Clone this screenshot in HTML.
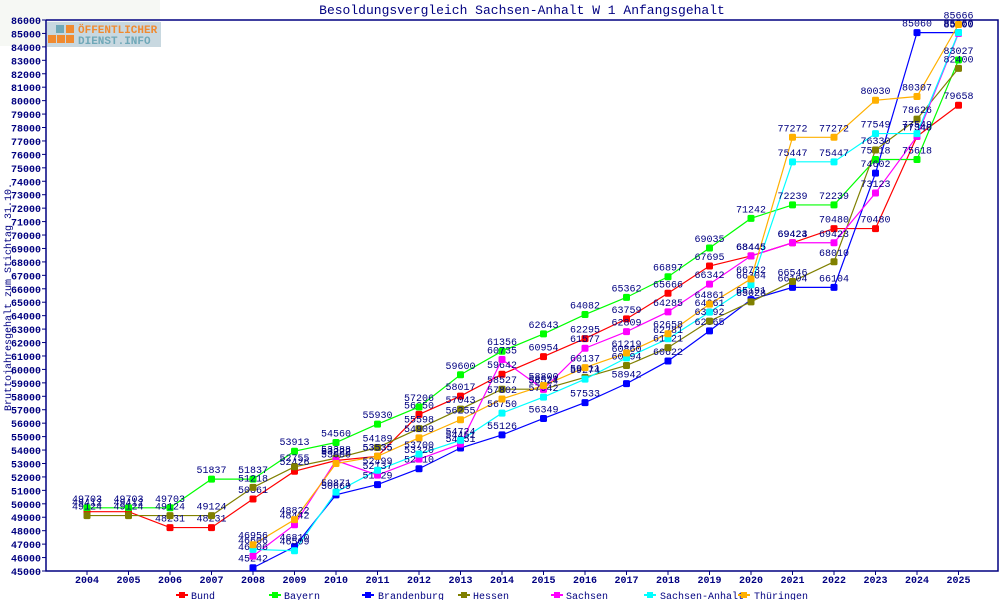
<!DOCTYPE html>
<html><head><meta charset="utf-8"><style>
html,body{margin:0;padding:0;background:#fff;width:1000px;height:600px;overflow:hidden}
svg text{font-family:"Liberation Mono",monospace;fill:#000080}
</style></head><body>
<svg id="s" width="1000" height="600" xmlns="http://www.w3.org/2000/svg">
<rect x="0" y="0" width="1000" height="600" fill="#fff"/>
<rect x="0" y="0" width="160" height="46" fill="#f6f8f4"/>
<rect x="47" y="22" width="114" height="25" fill="#c8d8e0"/>
<rect x="56" y="25" width="8" height="8" fill="#6fa8b8"/>
<rect x="66" y="25" width="8" height="8" fill="#f08a30"/>
<rect x="48" y="35" width="8" height="8" fill="#f08a30"/>
<rect x="57" y="35" width="8" height="8" fill="#f08a30"/>
<rect x="66" y="35" width="8" height="8" fill="#f08a30"/>
<text x="78" y="33" font-size="11" font-weight="bold" style="fill:#f08a30">ÖFFENTLICHER</text>
<text x="78" y="44" font-size="11" font-weight="bold" style="fill:#6fa8b8">DIENST.INFO</text>
<text x="522" y="14" font-size="13" text-anchor="middle">Besoldungsvergleich Sachsen-Anhalt W 1 Anfangsgehalt</text>
<text transform="translate(11,297) rotate(-90)" font-size="10" text-anchor="middle">Bruttojahresgehalt zum Stichtag 31.10.</text>
<g id="ax" stroke="#000080" stroke-width="1.5" fill="none">
<polyline points="46,20 998,20 998,571 46,571 46,20"/>
</g>
<g id="yt"></g><g id="xt"></g><g id="ser"></g>
<g font-size="10">
<line x1="176" y1="595" x2="188" y2="595" stroke="#f00" stroke-width="2"/><rect x="179" y="592" width="6" height="6" fill="#f00"/><text x="191" y="599">Bund</text>
<line x1="269" y1="595" x2="281" y2="595" stroke="#0f0" stroke-width="2"/><rect x="272" y="592" width="6" height="6" fill="#0f0"/><text x="284" y="599">Bayern</text>
<line x1="362" y1="595" x2="374" y2="595" stroke="#00f" stroke-width="2"/><rect x="365" y="592" width="6" height="6" fill="#00f"/><text x="378" y="599">Brandenburg</text>
<line x1="458" y1="595" x2="470" y2="595" stroke="#808000" stroke-width="2"/><rect x="461" y="592" width="6" height="6" fill="#808000"/><text x="473" y="599">Hessen</text>
<line x1="551" y1="595" x2="563" y2="595" stroke="#f0f" stroke-width="2"/><rect x="554" y="592" width="6" height="6" fill="#f0f"/><text x="566" y="599">Sachsen</text>
<line x1="644" y1="595" x2="656" y2="595" stroke="#0ff" stroke-width="2"/><rect x="647" y="592" width="6" height="6" fill="#0ff"/><text x="660" y="599">Sachsen-Anhalt</text>
<line x1="738" y1="595" x2="750" y2="595" stroke="#ffb000" stroke-width="2"/><rect x="741" y="592" width="6" height="6" fill="#ffb000"/><text x="754" y="599">Thüringen</text>
</g>
</svg>
<script>
var NS="http://www.w3.org/2000/svg";
function el(p,t,a,txt){var e=document.createElementNS(NS,t);for(var k in a)e.setAttribute(k,a[k]);if(txt!=null)e.textContent=txt;p.appendChild(e);return e;}
function Y(v){return 571-(v-45000)*551/41000;}
function X(i){return 87+i*41.5;}
var yt=document.getElementById("yt"),xt=document.getElementById("xt"),ser=document.getElementById("ser");
for(var v=45000;v<=86000;v+=1000){var y=Y(v);el(yt,"line",{x1:42,y1:y,x2:46,y2:y,stroke:"#000080"});el(yt,"text",{x:41,y:y+4,"font-size":"10","font-weight":"bold","text-anchor":"end"},String(v));}
for(var i=0;i<22;i++){el(xt,"line",{x1:X(i),y1:571,x2:X(i),y2:575,stroke:"#000080"});el(xt,"text",{x:X(i),y:583,"font-size":"10","font-weight":"bold","text-anchor":"middle"},String(2004+i));}
var S=[
["#f00",0,[49412,49412,48231,48231,50361,52426,53222,53535,56650,58017,59642,60954,62295,63759,65666,67695,68445,69424,70480,70480,77340,79658]],
["#0f0",0,[49703,49703,49703,51837,51837,53913,54560,55930,57206,59600,61356,62643,64082,65362,66897,69035,71242,72239,72239,75618,75618,83027]],
["#00f",4,[45242,46810,50669,51429,52610,54151,55126,56349,57533,58942,60622,62865,65191,66104,66104,74602,85060,85060]],
["#808000",0,[49124,49124,49124,49124,51218,52755,53388,54189,55598,57043,58527,58527,59411,60294,61621,63592,65028,66546,68010,76330,78626,82400]],
["#f0f",4,[46106,48442,53222,52137,53320,54451,60735,58524,61577,62809,64285,66342,68445,69423,69423,73123,77340,85000]],
["#0ff",4,[46606,46509,50871,52499,53700,54724,56750,57942,59274,60860,62281,64261,66304,75447,75447,77549,77549,85060]],
["#ffb000",4,[46956,48822,53000,53535,54909,56255,57802,58800,60137,61219,62658,64861,66732,77272,77272,80030,80307,85666]]
];
S.forEach(function(s){var c=s[0],o=s[1],d=s[2],pts=[];d.forEach(function(v,j){pts.push(X(j+o)+","+Y(v));});
el(ser,"polyline",{points:pts.join(" "),fill:"none",stroke:c,"stroke-width":"1.2"});});
S.forEach(function(s){var c=s[0],o=s[1],d=s[2];d.forEach(function(v,j){var x=X(j+o),y=Y(v);
el(ser,"rect",{x:x-3.5,y:y-3.5,width:7,height:7,fill:c,rx:1.5});
el(ser,"text",{x:x,y:y-6,"font-size":"10","text-anchor":"middle"},String(v));});});
</script>
</body></html>
